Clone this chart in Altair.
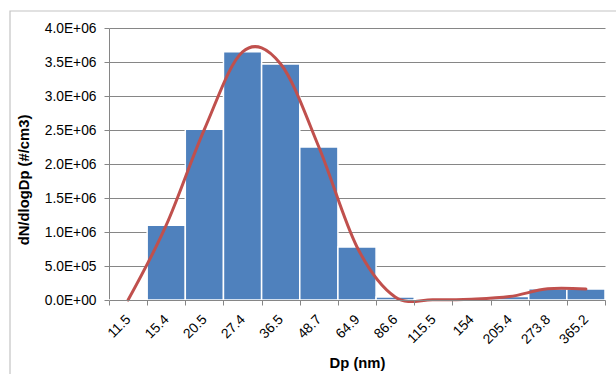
import json
import altair as alt
import pandas as pd

# Particle diameter categories (nm)
diameters = ["11.5", "15.4", "20.5", "27.4", "36.5", "48.7", "64.9",
             "86.6", "115.5", "154", "205.4", "273.8", "365.2"]
# dN/dlogDp values (#/cm3)
dndlogdp = [0, 1.10e6, 2.51e6, 3.65e6, 3.47e6, 2.25e6, 0.78e6,
            0.045e6, 0.004e6, 0.012e6, 0.05e6, 0.165e6, 0.16e6]

y_ticks = [0, 500000, 1000000, 1500000, 2000000, 2500000, 3000000, 3500000, 4000000]
y_tick_labels = ["0.0E+00", "5.0E+05", "1.0E+06", "1.5E+06", "2.0E+06",
                 "2.5E+06", "3.0E+06", "3.5E+06", "4.0E+06"]

x_title = "Dp (nm)"
y_title = "dN/dlogDp (#/cm3)"

df = pd.DataFrame({"Dp": diameters, "N": dndlogdp})

label_map = json.dumps({str(v): l for v, l in zip(y_ticks, y_tick_labels)})

FONT = "Liberation Sans"
GRID = "#868686"
LABEL_SIZE = 13.8
TITLE_SIZE = 14.8

x_enc = alt.X(
    "Dp:N",
    sort=diameters,
    scale=alt.Scale(paddingInner=0, paddingOuter=0),
    axis=alt.Axis(
        title=x_title,
        labelAngle=-45,
        labelAlign="right",
        labelBaseline="middle",
        labelFont=FONT,
        labelFontSize=LABEL_SIZE,
        labelColor="#000000",
        tickBand="extent",
        tickSize=5,
        labelPadding=12,
        titleFont=FONT,
        titleFontSize=TITLE_SIZE,
        titleFontWeight="bold",
        titleColor="#000000",
        titleX=248,
        titleY=63,
        titleAlign="center",
        titleBaseline="middle",
        zindex=1,
    ),
)
y_enc = alt.Y(
    "N:Q",
    scale=alt.Scale(domain=[0, 4000000], nice=False),
    axis=alt.Axis(
        title=None,
        values=y_ticks,
        labelExpr=f"{label_map}[datum.value + '']",
        labelFont=FONT,
        labelFontSize=LABEL_SIZE,
        labelColor="#000000",
        grid=True,
        gridColor=GRID,
        gridWidth=1,
        tickSize=5,
        labelPadding=8,
    ),
)

base = alt.Chart(df)
bars = base.mark_bar(color="#4F81BD", stroke="white", strokeWidth=1.5).encode(x=x_enc, y=y_enc)
line = base.mark_line(color="#C0504D", strokeWidth=3, interpolate="cardinal",
                      strokeCap="round", strokeJoin="round").encode(x=x_enc, y=y_enc)

single = alt.Data(values=[{"t": y_title}])
ytitle = alt.Chart(single).mark_text(
    angle=270, align="center", baseline="middle", font=FONT,
    fontSize=TITLE_SIZE, fontWeight="bold", color="#000000"
).encode(text="t:N", x=alt.value(-84), y=alt.value(152))

frame = alt.Chart(alt.Data(values=[{"a": 1}])).mark_rect(
    fillOpacity=0, stroke="#C4C4C4", strokeWidth=1.2
).encode(x=alt.value(-99), x2=alt.value(600), y=alt.value(-17), y2=alt.value(400))

chart = alt.layer(frame, bars, line, ytitle).properties(
    width=496,
    height=272,
    autosize=alt.AutoSizeParams(type="none"),
    padding={"left": 109, "top": 28, "right": 11, "bottom": 74},
).configure_view(strokeWidth=0).configure_axis(
    domainColor=GRID,
    tickColor=GRID,
    domainWidth=1,
    tickWidth=1,
)

chart.save("out.html", embed_options={"renderer": "svg", "actions": False})
